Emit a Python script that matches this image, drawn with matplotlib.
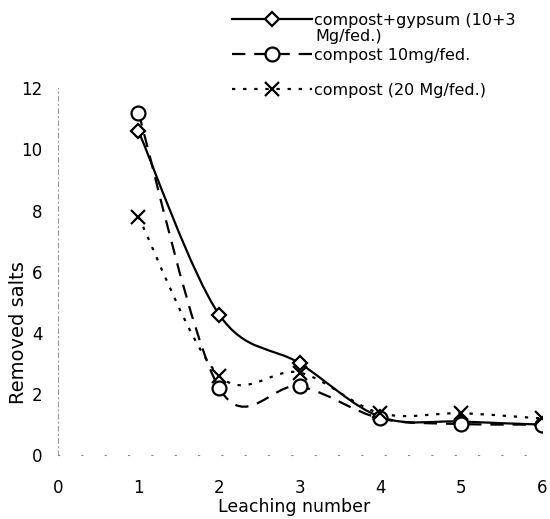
import matplotlib
matplotlib.use("Agg")
import matplotlib.pyplot as plt
from matplotlib.path import Path
from matplotlib.patches import PathPatch
from matplotlib.lines import Line2D

plt.rcParams['font.family'] = ['DejaVu Sans']

leaching = [1, 2, 3, 4, 5, 6]
gypsum_mix = [10.6, 4.6, 3.0, 1.25, 1.1, 1.0]
compost10 = [11.2, 2.2, 2.25, 1.2, 1.02, 1.0]
compost20 = [7.8, 2.6, 2.7, 1.37, 1.37, 1.2]

labels = ['compost+gypsum (10+3', 'compost 10mg/fed.', 'compost (20 Mg/fed.)']
label_wrap = 'Mg/fed.)'


def smooth_path(xs, ys):
    # excel style smoothed line -> cubic bezier pieces
    pts = list(zip(xs, ys))
    verts = [pts[0]]
    codes = [Path.MOVETO]
    n = len(pts)
    for i in range(n - 1):
        p0 = pts[i - 1] if i > 0 else pts[i]
        p1 = pts[i]
        p2 = pts[i + 1]
        p3 = pts[i + 2] if i + 2 < n else pts[i + 1]
        c1 = (p1[0] + (p2[0] - p0[0]) / 6, p1[1] + (p2[1] - p0[1]) / 6)
        c2 = (p2[0] - (p3[0] - p1[0]) / 6, p2[1] - (p3[1] - p1[1]) / 6)
        verts += [c1, c2, p2]
        codes += [Path.CURVE4] * 3
    return Path(verts, codes)


fig = plt.figure(figsize=(5.5, 5.19), dpi=100)
ax = fig.add_axes([0.105, 0.123, 0.88, 0.707])

series = [
    (gypsum_mix, '-', 'D', 7, 10),
    (compost10, (0, (6, 4)), 'o', 10, 20),
    (compost20, (0, (1.5, 3.5)), 'x', 10, 30),
]

handles = []
for ys, ls, mk, ms, z in series:
    patch = PathPatch(smooth_path(leaching, ys), facecolor='none', edgecolor='black',
                      lw=1.6, linestyle=ls, zorder=2)
    ax.add_patch(patch)
    ax.plot(leaching, ys, linestyle='none', marker=mk, ms=ms, mfc='white', mec='black',
            mew=1.6, zorder=3)
    handles.append(Line2D([], [], color='black', lw=1.6, linestyle=ls,
                          marker=mk, ms=ms, mfc='white', mec='black', mew=1.6))

ax.set_xlim(0, 6)
ax.set_ylim(0, 12)
ax.set_xticks(range(0, 7))
ax.set_yticks(range(0, 13, 2))
ax.tick_params(length=0, labelsize=12)
ax.tick_params(axis='x', pad=17)
ax.tick_params(axis='y', pad=11)

for s in ['top', 'right']:
    ax.spines[s].set_visible(False)
ax.spines['left'].set_linestyle((0, (4, 3, 1, 3)))
ax.spines['left'].set_color('#999999')
ax.spines['left'].set_linewidth(0.8)
ax.spines['bottom'].set_linestyle((0, (1, 20)))
ax.spines['bottom'].set_color('#888888')

ax.set_xlabel('Leaching number', fontsize=12.5)
ax.xaxis.set_label_coords(0.488, -0.116)
ax.set_ylabel('Removed salts', fontsize=14)
ax.yaxis.set_label_coords(-0.062, 0.335)

fig.legend(handles, labels, loc='upper left', bbox_to_anchor=(0.422, 0.975),
           frameon=False, fontsize=11.5, handlelength=5.0, handletextpad=0.15,
           labelspacing=1.25, borderaxespad=0, borderpad=0)
fig.text(0.573, 0.929, label_wrap, fontsize=11.5, va='center', ha='left')

fig.savefig('out.png', dpi=100)
